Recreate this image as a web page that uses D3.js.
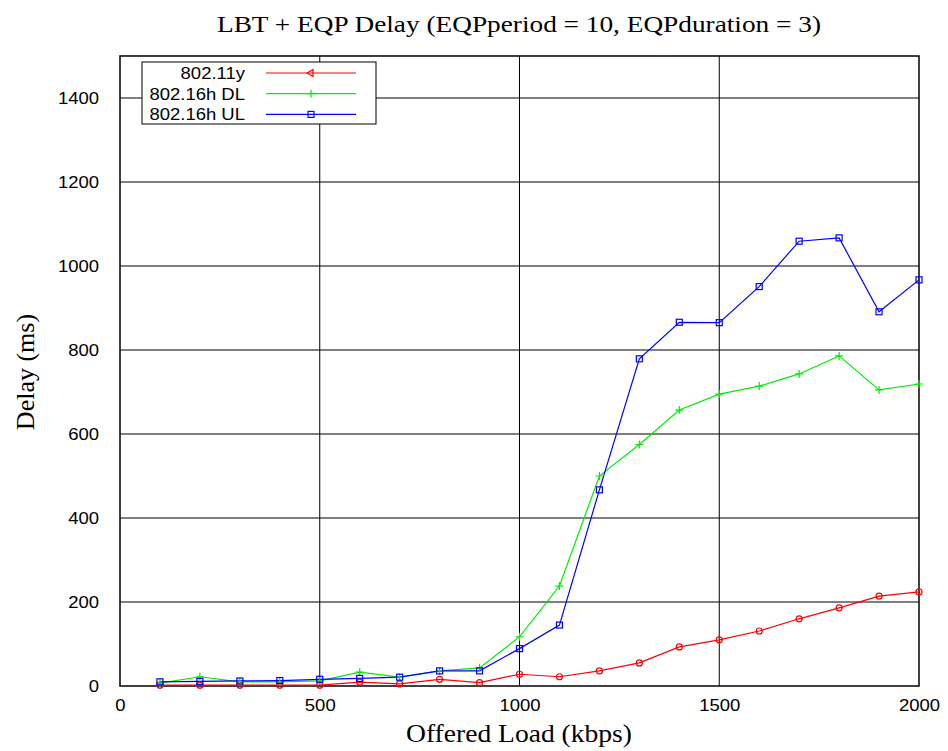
<!DOCTYPE html>
<html>
<head>
<meta charset="utf-8">
<script src="https://cdn.jsdelivr.net/npm/d3@7"></script>
<style>
  body { margin: 0; background: #fff; }
  svg { display: block; }
</style>
</head>
<body>
<div id="chart"></div>
<script>
var width = 948;
var height = 751;

var loads = [100, 200, 300, 400, 500, 600, 700, 800, 900, 1000, 1100, 1200, 1300, 1400, 1500, 1600, 1700, 1800, 1900, 2000];
var wifiDelay = [2, 2, 2, 2, 2, 9, 5, 16, 8, 28, 22, 36, 55, 93, 110, 131, 160, 186, 214, 224];
var dlDelay = [7, 22, 10, 10, 12, 33, 21, 36, 43, 117, 238, 500, 575, 657, 695, 714, 743, 786, 705, 719];
var ulDelay = [10, 11, 12, 13, 16, 18, 21, 36, 36, 89, 145, 467, 779, 866, 865, 951, 1059, 1067, 891, 967];
var seriesNames = ["802.11y", "802.16h DL", "802.16h UL"];
var seriesColors = ["#ff0000", "#00ee00", "#0000ff"];
var xTicks = [0, 500, 1000, 1500, 2000];
var yTicks = [0, 200, 400, 600, 800, 1000, 1200, 1400];

var margin = { left: 120, right: 29, top: 56, bottom: 65 };
var stretch = 1.12; // the original picture is a bit wider than tall

var svg = d3.select("#chart")
    .append("svg")
    .attr("width", width)
    .attr("height", height);

var xScale = d3.scaleLinear().domain([0, 2000]).range([margin.left, width - margin.right]);
var yScale = d3.scaleLinear().domain([0, 1500]).range([height - margin.bottom, margin.top]);

function widen(sel) {
    sel.each(function () {
        var len = this.getComputedTextLength();
        d3.select(this)
            .attr("textLength", len * stretch)
            .attr("lengthAdjust", "spacingAndGlyphs");
    });
}

// horizontal grid
svg.append("g")
    .selectAll("line")
    .data(yTicks.filter(function (d) { return d > 0; }))
    .enter()
    .append("line")
    .attr("x1", xScale(0))
    .attr("x2", xScale(2000))
    .attr("y1", function (d) { return yScale(d); })
    .attr("y2", function (d) { return yScale(d); })
    .attr("stroke", "#555")
    .attr("stroke-width", 1.4);

// vertical grid
svg.append("g")
    .selectAll("line")
    .data([500, 1000, 1500])
    .enter()
    .append("line")
    .attr("x1", function (d) { return xScale(d); })
    .attr("x2", function (d) { return xScale(d); })
    .attr("y1", yScale(0))
    .attr("y2", yScale(1500))
    .attr("stroke", "#000")
    .attr("stroke-width", 1);

// axes
var yAxis = d3.axisLeft(yScale).tickValues(yTicks).tickFormat(d3.format("d")).tickSize(0).tickPadding(21);
var xAxis = d3.axisBottom(xScale).tickValues(xTicks).tickFormat(d3.format("d")).tickSize(0).tickPadding(13);

var gy = svg.append("g")
    .attr("transform", "translate(" + margin.left + ",0)")
    .call(yAxis);
var gx = svg.append("g")
    .attr("transform", "translate(0," + (height - margin.bottom) + ")")
    .call(xAxis);

[gx, gy].forEach(function (g) {
    g.select(".domain").remove();
    g.selectAll("text")
        .attr("font-family", "Liberation Sans, Arial, sans-serif")
        .attr("font-size", 16.5)
        .attr("fill", "#000")
        .call(widen);
});

// frame
svg.append("rect")
    .attr("x", xScale(0))
    .attr("y", yScale(1500))
    .attr("width", xScale(2000) - xScale(0))
    .attr("height", yScale(0) - yScale(1500))
    .attr("fill", "none")
    .attr("stroke", "#111")
    .attr("stroke-width", 1.6);

// lines
var allSeries = [wifiDelay, dlDelay, ulDelay];

var line = d3.line()
    .x(function (d, i) { return xScale(loads[i]); })
    .y(function (d) { return yScale(d); });

allSeries.forEach(function (vals, s) {
    svg.append("path")
        .datum(vals)
        .attr("d", line)
        .attr("fill", "none")
        .attr("stroke", seriesColors[s])
        .attr("stroke-width", 1.2);
});

function drawMarker(g, s, x, y) {
    if (s === 0) {
        g.append("circle")
            .attr("cx", x).attr("cy", y).attr("r", 3)
            .attr("fill", "none").attr("stroke", seriesColors[0]).attr("stroke-width", 1.2);
    } else if (s === 1) {
        g.append("path")
            .attr("d", "M" + (x - 4) + "," + y + "H" + (x + 4) + "M" + x + "," + (y - 4) + "V" + (y + 4))
            .attr("stroke", seriesColors[1]).attr("stroke-width", 1.2);
    } else {
        g.append("rect")
            .attr("x", x - 3).attr("y", y - 3).attr("width", 6).attr("height", 6)
            .attr("fill", "none").attr("stroke", seriesColors[2]).attr("stroke-width", 1.2);
    }
}

var markers = svg.append("g");
allSeries.forEach(function (vals, s) {
    vals.forEach(function (v, i) {
        drawMarker(markers, s, xScale(loads[i]), yScale(v));
    });
});

// legend
var legend = svg.append("g");
legend.append("rect")
    .attr("x", 142).attr("y", 62)
    .attr("width", 234).attr("height", 62)
    .attr("fill", "#fff")
    .attr("stroke", "#000")
    .attr("stroke-width", 1);

seriesNames.forEach(function (name, s) {
    var y = 73 + s * 20.7;
    legend.append("text")
        .attr("x", 245).attr("y", y)
        .attr("dy", "0.36em")
        .attr("text-anchor", "end")
        .attr("font-family", "Liberation Sans, Arial, sans-serif")
        .attr("font-size", 16.5)
        .text(name)
        .call(widen);
    legend.append("line")
        .attr("x1", 266).attr("x2", 356)
        .attr("y1", y).attr("y2", y)
        .attr("stroke", seriesColors[s])
        .attr("stroke-width", 1.2);
    if (s === 0) {
        legend.append("path")
            .attr("d", "M" + 307 + "," + y + "L" + 313 + "," + (y - 3.5) + "L" + 313 + "," + (y + 3.5) + "Z")
            .attr("fill", "none").attr("stroke", seriesColors[0]).attr("stroke-width", 1.2);
    } else {
        drawMarker(legend, s, 311, y);
    }
});

// titles
svg.append("text")
    .attr("x", 519).attr("y", 32)
    .attr("text-anchor", "middle")
    .attr("font-family", "Liberation Serif, Times New Roman, serif")
    .attr("font-size", 24)
    .attr("textLength", 604)
    .attr("lengthAdjust", "spacingAndGlyphs")
    .text("LBT + EQP Delay (EQPperiod = 10, EQPduration = 3)");

svg.append("text")
    .attr("x", 519).attr("y", 742)
    .attr("text-anchor", "middle")
    .attr("font-family", "Liberation Serif, Times New Roman, serif")
    .attr("font-size", 25)
    .attr("textLength", 226)
    .attr("lengthAdjust", "spacingAndGlyphs")
    .text("Offered Load (kbps)");

svg.append("text")
    .attr("transform", "translate(34,372) rotate(-90)")
    .attr("text-anchor", "middle")
    .attr("font-family", "Liberation Serif, Times New Roman, serif")
    .attr("font-size", 26)
    .text("Delay (ms)");
</script>
</body>
</html>
